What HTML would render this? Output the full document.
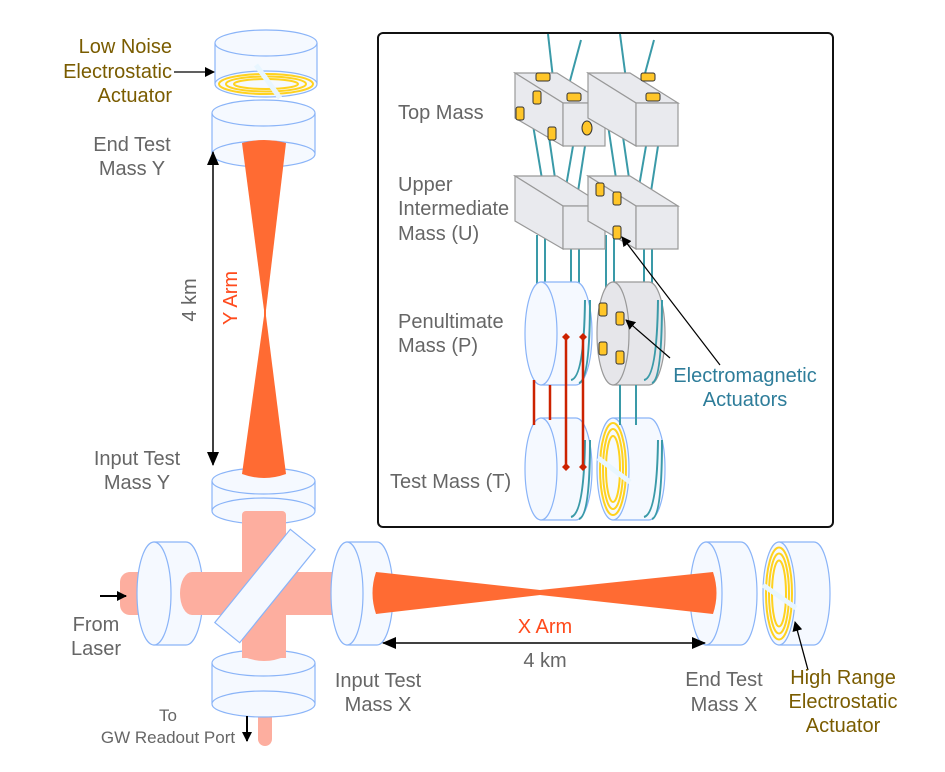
<!DOCTYPE html>
<html><head><meta charset="utf-8"><style>
html,body{margin:0;padding:0;background:#fff}
svg{display:block}
text{font-family:"Liberation Sans",Arial,sans-serif}
</style></head><body>
<svg width="945" height="772" viewBox="0 0 945 772" xmlns="http://www.w3.org/2000/svg">
<defs>
<marker id="ah" markerWidth="10" markerHeight="10" refX="9" refY="5" orient="auto" markerUnits="userSpaceOnUse"><path d="M0,0 L10,5 L0,10 Z" fill="#000"/></marker>
<marker id="ahs" markerWidth="14" markerHeight="12" refX="13" refY="6" orient="auto-start-reverse" markerUnits="userSpaceOnUse"><path d="M0,0 L14,6 L0,12 Z" fill="#000"/></marker>
<marker id="dm" markerWidth="8" markerHeight="8" refX="4" refY="4" orient="auto" markerUnits="userSpaceOnUse"><path d="M4,0 L8,4 L4,8 L0,4 Z" fill="#CC2200"/></marker>
</defs>
<g fill="#F5F9FF" stroke="#8AB4F8" stroke-width="1.2">
<rect x="215" y="43" width="102" height="41" stroke="none"/>
<line x1="215" y1="43" x2="215" y2="84"/><line x1="317" y1="43" x2="317" y2="84"/>
<ellipse cx="266" cy="84" rx="51" ry="13"/>
<ellipse cx="266" cy="43" rx="51" ry="13"/>
<rect x="212" y="113" width="103" height="41" stroke="none"/>
<line x1="212" y1="113" x2="212" y2="154"/><line x1="315" y1="113" x2="315" y2="154"/>
<ellipse cx="263.5" cy="154" rx="51.5" ry="13"/>
<ellipse cx="263.5" cy="113" rx="51.5" ry="13"/>
<rect x="212" y="481" width="103" height="30" stroke="none"/>
<line x1="212" y1="481" x2="212" y2="511"/><line x1="315" y1="481" x2="315" y2="511"/>
<ellipse cx="263.5" cy="511" rx="51.5" ry="13"/>
<ellipse cx="263.5" cy="481" rx="51.5" ry="13"/>
</g>
<g fill="#FDAE9F">
<rect x="242" y="511" width="44" height="150" rx="4"/>
<rect x="120" y="572" width="215" height="43" rx="10"/>
<rect x="258" y="700" width="14" height="46" rx="7"/>
</g>
<g fill="#F5F9FF" stroke="#8AB4F8" stroke-width="1.2">
<path d="M154,542 L186,542 A17,51.5 0 0 1 186,645 L154,645 Z"/>
<ellipse cx="154" cy="593.5" rx="17" ry="51.5"/>
</g>
<path d="M192,572 L333,572 L333,615 L192,615 A12,21.5 0 0 1 192,572 Z" fill="#FDAE9F"/>
<rect x="205" y="570" width="120" height="32" fill="#F5F9FF" stroke="#8AB4F8" stroke-width="1.2" transform="rotate(-51 265 586)"/>
<g fill="#F5F9FF" stroke="#8AB4F8" stroke-width="1.2">
<rect x="212" y="663" width="103" height="41" stroke="none"/>
<line x1="212" y1="663" x2="212" y2="704"/><line x1="315" y1="663" x2="315" y2="704"/>
<ellipse cx="263.5" cy="704" rx="51.5" ry="13"/>
<ellipse cx="263.5" cy="663" rx="51.5" ry="13"/>
</g>
<rect x="242" y="640" width="44" height="18" fill="#FDAE9F"/>
<path d="M242,656 Q264,666 286,656 L286,650 L242,650 Z" fill="#FDAE9F"/>
<g fill="#F5F9FF" stroke="#8AB4F8" stroke-width="1.2">
<path d="M347,542 L377,542 A16,51.5 0 0 1 377,645 L347,645 Z"/>
<ellipse cx="347" cy="593.5" rx="16" ry="51.5"/>
<path d="M706,542 L741,542 A16,51.5 0 0 1 741,645 L706,645 Z"/>
<ellipse cx="706" cy="593.5" rx="16" ry="51.5"/>
<path d="M779,542 L814,542 A16,51.5 0 0 1 814,645 L779,645 Z"/>
<ellipse cx="779" cy="593.5" rx="16" ry="51.5"/>
</g>
<g fill="none" stroke="#FFD21F" stroke-width="2">
<ellipse cx="779" cy="593.5" rx="13" ry="46"/>
<ellipse cx="779" cy="593.5" rx="10" ry="40"/>
<ellipse cx="779" cy="593.5" rx="7" ry="33"/>
</g>
<line x1="763" y1="585" x2="796" y2="608" stroke="#E8F6FF" stroke-width="5"/>
<g fill="none" stroke="#FFD21F" stroke-width="2">
<ellipse cx="266" cy="84" rx="47" ry="10"/>
<ellipse cx="266" cy="84" rx="40" ry="7.5"/>
<ellipse cx="266" cy="84" rx="32" ry="5"/>
</g>
<line x1="256" y1="65" x2="280" y2="98" stroke="#E8F6FF" stroke-width="5"/>
<path d="M242,143 Q264,137 286,143 L266,310 L264,310 Z" fill="#FF6B33"/>
<path d="M264,316 L266,316 L286,474 Q264,482 242,474 Z" fill="#FF6B33"/>
<path d="M264,308 L266,308 L266,318 L264,318 Z" fill="#FF6B33"/>
<path d="M376,572 L540,590 L713,572 Q720,593 713,614 L540,595 L376,614 Q369,593 376,572 Z" fill="#FF6B33"/>
<line x1="213" y1="152" x2="213" y2="465" stroke="#000" stroke-width="1.5" marker-start="url(#ahs)" marker-end="url(#ahs)"/>
<line x1="383" y1="643" x2="705" y2="643" stroke="#000" stroke-width="1.5" marker-start="url(#ahs)" marker-end="url(#ahs)"/>
<line x1="174" y1="72" x2="214" y2="72" stroke="#000" stroke-width="1.3" marker-end="url(#ah)"/>
<line x1="100" y1="596" x2="126" y2="596" stroke="#000" stroke-width="2" marker-end="url(#ah)"/>
<line x1="247" y1="716" x2="247" y2="741" stroke="#000" stroke-width="2" marker-end="url(#ah)"/>
<line x1="808" y1="670" x2="795" y2="622" stroke="#000" stroke-width="1.3" marker-end="url(#ah)"/>
<g font-size="20" fill="#7A5C00" text-anchor="end">
<text x="172" y="53">Low Noise</text><text x="172" y="78">Electrostatic</text><text x="172" y="102">Actuator</text>
</g>
<g font-size="20" fill="#7A5C00" text-anchor="middle">
<text x="843" y="684">High Range</text><text x="843" y="708">Electrostatic</text><text x="843" y="732">Actuator</text>
</g>
<g font-size="20" fill="#666" text-anchor="middle">
<text x="132" y="151">End Test</text><text x="132" y="175">Mass Y</text>
<text x="137" y="465">Input Test</text><text x="137" y="489">Mass Y</text>
<text x="96" y="631">From</text><text x="96" y="655">Laser</text>
<text x="378" y="687">Input Test</text><text x="378" y="711">Mass X</text>
<text x="724" y="686">End Test</text><text x="724" y="711">Mass X</text>
<text x="545" y="667">4 km</text>
<text transform="translate(196 300) rotate(-90)">4 km</text>
</g>
<g font-size="17" fill="#666" text-anchor="middle">
<text x="168" y="721">To</text><text x="168" y="743">GW Readout Port</text>
</g>
<text x="545" y="633" font-size="20" fill="#FF4A1C" text-anchor="middle">X Arm</text>
<text transform="translate(237 298) rotate(-90)" font-size="20" fill="#FF4A1C" text-anchor="middle">Y Arm</text>
<rect x="378" y="33" width="455" height="494" rx="5" fill="#fff" stroke="#111" stroke-width="2"/>
<g font-size="20" fill="#666">
<text x="398" y="119">Top Mass</text>
<text x="398" y="191">Upper</text><text x="398" y="215">Intermediate</text><text x="398" y="240">Mass (U)</text>
<text x="398" y="328">Penultimate</text><text x="398" y="352">Mass (P)</text>
<text x="390" y="488">Test Mass (T)</text>
</g>
<g font-size="20" fill="#2E7D9A" text-anchor="middle">
<text x="745" y="382">Electromagnetic</text><text x="745" y="406">Actuators</text>
</g>
<g stroke="#3A9AA8" stroke-width="2" fill="none">
<line x1="548" y1="34" x2="554" y2="87"/><line x1="581" y1="40" x2="567" y2="92"/>
<line x1="620" y1="34" x2="627" y2="87"/><line x1="654" y1="40" x2="640" y2="92"/>
<line x1="533" y1="125" x2="543" y2="185"/><line x1="548" y1="130" x2="556" y2="185"/>
<line x1="573" y1="146" x2="564" y2="198"/><line x1="585" y1="146" x2="577" y2="198"/>
<line x1="608" y1="125" x2="617" y2="185"/><line x1="622" y1="130" x2="630" y2="185"/>
<line x1="646" y1="146" x2="637" y2="198"/><line x1="658" y1="146" x2="650" y2="198"/>
<line x1="537" y1="235" x2="537" y2="290"/><line x1="545" y1="235" x2="545" y2="290"/>
<line x1="571" y1="249" x2="571" y2="380"/><line x1="579" y1="249" x2="579" y2="380"/>
<line x1="606" y1="235" x2="606" y2="290"/><line x1="614" y1="235" x2="614" y2="290"/>
<line x1="644" y1="249" x2="644" y2="380"/><line x1="652" y1="249" x2="652" y2="380"/>
</g>
<g stroke="#999" stroke-width="1.2" fill="#E9EAEE">
<path d="M515,73 L557,73 L605,103 L563,103 Z"/><path d="M515,73 L563,103 L563,146 L515,118 Z"/><rect x="563" y="103" width="42" height="43"/>
<path d="M588,73 L630,73 L678,103 L636,103 Z"/><path d="M588,73 L636,103 L636,146 L588,118 Z"/><rect x="636" y="103" width="42" height="43"/>
<path d="M515,176 L557,176 L605,206 L563,206 Z"/><path d="M515,176 L563,206 L563,249 L515,221 Z"/><rect x="563" y="206" width="42" height="43"/>
<path d="M588,176 L630,176 L678,206 L636,206 Z"/><path d="M588,176 L636,206 L636,249 L588,221 Z"/><rect x="636" y="206" width="42" height="43"/>
</g>
<g fill="#FFC629" stroke="#333" stroke-width="1">
<rect x="536" y="73" width="14" height="8" rx="2"/><rect x="567" y="93" width="14" height="8" rx="2"/>
<rect x="641" y="73" width="14" height="8" rx="2"/><rect x="646" y="93" width="14" height="8" rx="2"/>
<rect x="533" y="91" width="8" height="13" rx="2"/><rect x="516" y="107" width="8" height="13" rx="2"/>
<rect x="548" y="127" width="8" height="13" rx="2"/><ellipse cx="587" cy="128" rx="5" ry="7"/>
<rect x="596" y="183" width="8" height="13" rx="2"/><rect x="613" y="192" width="8" height="13" rx="2"/>
<rect x="613" y="226" width="8" height="13" rx="2"/>
</g>
<g stroke-width="1.2">
<g fill="#F5F9FF" stroke="#8AB4F8">
<path d="M541,282 L576,282 A16,51.5 0 0 1 576,385 L541,385 Z"/>
<ellipse cx="541" cy="333.5" rx="16" ry="51.5"/>
<path d="M541,418 L576,418 A16,51 0 0 1 576,520 L541,520 Z"/>
<ellipse cx="541" cy="469" rx="16" ry="51"/>
<path d="M613,418 L649,418 A16,51 0 0 1 649,520 L613,520 Z"/>
<ellipse cx="613" cy="469" rx="16" ry="51"/>
</g>
<g fill="#E6E6EA" stroke="#999">
<path d="M613,282 L649,282 A16,51.5 0 0 1 649,385 L613,385 Z"/>
<ellipse cx="613" cy="333.5" rx="16" ry="51.5"/>
</g>
</g>
<g stroke="#3A9AA8" stroke-width="2" fill="none">
<path d="M571,380 Q584,378 585,300"/><path d="M579,383 Q590,380 590,300"/>
<path d="M644,380 Q657,378 658,300"/><path d="M652,383 Q662,380 662,300"/>
<line x1="620" y1="385" x2="620" y2="425"/><line x1="636" y1="385" x2="636" y2="425"/>
<path d="M571,517 Q584,514 585,440"/><path d="M579,519 Q590,516 590,440"/>
<path d="M644,517 Q657,514 658,440"/><path d="M652,519 Q662,516 662,440"/>
</g>
<g fill="none" stroke="#FFD21F" stroke-width="2">
<ellipse cx="613" cy="469" rx="13" ry="46"/><ellipse cx="613" cy="469" rx="10" ry="40"/><ellipse cx="613" cy="469" rx="7" ry="33"/>
</g>
<line x1="598" y1="458" x2="630" y2="482" stroke="#E8F6FF" stroke-width="5"/>
<g fill="#FFC629" stroke="#333" stroke-width="1">
<rect x="599" y="303" width="8" height="13" rx="2"/><rect x="616" y="312" width="8" height="13" rx="2"/>
<rect x="599" y="342" width="8" height="13" rx="2"/><rect x="616" y="351" width="8" height="13" rx="2"/>
</g>
<g stroke="#CC2200" stroke-width="2.5">
<line x1="534" y1="380" x2="534" y2="425"/><line x1="550" y1="385" x2="550" y2="420"/>
<line x1="566" y1="337" x2="566" y2="467" marker-start="url(#dm)" marker-end="url(#dm)"/>
<line x1="583" y1="337" x2="583" y2="467" marker-start="url(#dm)" marker-end="url(#dm)"/>
</g>
<line x1="720" y1="365" x2="622" y2="237" stroke="#000" stroke-width="1.2" marker-end="url(#ah)"/>
<line x1="670" y1="358" x2="626" y2="320" stroke="#000" stroke-width="1.2" marker-end="url(#ah)"/>
</svg>
</body></html>
